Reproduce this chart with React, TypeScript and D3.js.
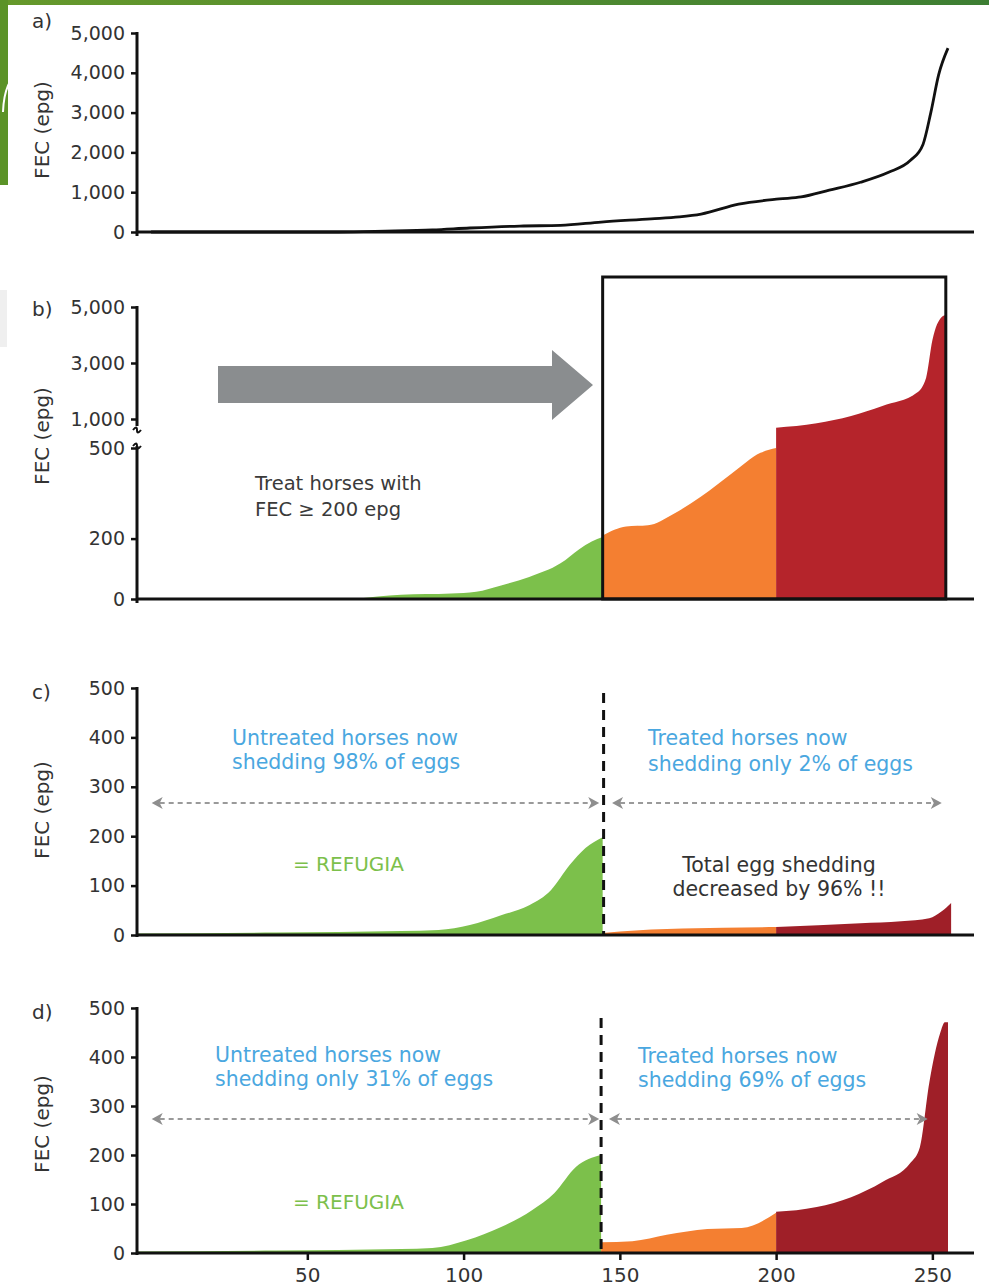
import React, { useRef, useEffect } from "react";
import * as d3 from "d3";

const W = 989;
const H = 1287;
const FONT = "DejaVu Sans";

// a) all horses, sorted by FEC
const aHorses = [0, 60, 75, 90, 102, 118, 131, 144, 160, 169, 176, 188, 201, 208, 217, 227, 236, 243, 247, 249.5, 252, 255];
const aFec = [0, 0, 20, 50, 100, 150, 165, 250, 330, 380, 450, 700, 830, 880, 1050, 1250, 1500, 1800, 2200, 3000, 3950, 4620];

// b) same horses, split by treatment group
const bGreenHorses = [65, 80, 96, 104, 112, 121, 131, 137, 141, 144.5];
const bGreenFec = [0, 14, 18, 24, 45, 73, 118, 165, 190, 205];
const bOrangeHorses = [144.5, 152, 159, 167, 176, 186, 195, 200];
const bOrangeFec = [210, 240, 244, 281, 339, 417, 484, 500];
const bRedHorses = [200, 213, 224, 234, 245, 248, 250, 253, 254.5];
const bRedFec = [850, 926, 1108, 1468, 1937, 2477, 3811, 4640, 4720];

// c) after treating everything >= 200 epg
const cGreenHorses = [-4.5, 40, 80, 92, 102, 112, 121, 128, 134, 139, 144.5];
const cGreenFec = [3, 5, 8, 10, 20, 40, 60, 91, 142, 176, 198];
const cOrangeHorses = [144.5, 150, 170, 200];
const cOrangeFec = [4, 7, 13, 16];
const cRedHorses = [200, 227, 240, 249, 253, 256];
const cRedFec = [16, 24, 28, 34, 48, 65];

// d) after treating with reduced efficacy
const dGreenHorses = [-4.5, 40, 80, 90, 101, 112, 122, 129, 136, 144];
const dGreenFec = [3, 5, 8, 10, 26, 53, 88, 122, 176, 200];
const dOrangeHorses = [144, 154, 165, 178, 189, 200];
const dOrangeFec = [22, 24, 37, 49, 51, 82];
const dRedHorses = [200, 213, 224, 234, 243, 246, 249, 252.5, 254, 255];
const dRedFec = [84, 94, 114, 145, 184, 216, 347, 449, 471, 471];

const aTicks = [0, 1000, 2000, 3000, 4000, 5000];
const bTicks = [0, 200, 500, 1000, 3000, 5000];
const cdTicks = [0, 100, 200, 300, 400, 500];
const xTicks = [50, 100, 150, 200, 250];

const GREEN = "#7cc04b";
const ORANGE = "#f47f31";
const RED_B = "#b5242b";
const RED_CD = "#9f1f28";
const BLUE = "#4aa7e0";
const INK = "#333";

const App = () => {
  const svgRef = useRef<SVGSVGElement>(null);

  useEffect(() => {
    if (!svgRef.current) return;
    const svg = d3.select(svgRef.current);
    svg.selectAll("*").remove();

    const x = d3.scaleLinear().domain([-4.5, 263]).range([137, 973]);
    const axisLeftX = 137;
    const axisRightX = 974;

    // web page leftovers: green header strip and side block
    const defs = svg.append("defs");
    const grad = defs.append("linearGradient").attr("id", "topbar");
    grad.append("stop").attr("offset", "0%").attr("stop-color", "#66992b");
    grad.append("stop").attr("offset", "100%").attr("stop-color", "#3d7e33");
    svg.append("rect").attr("x", 0).attr("y", 0).attr("width", W).attr("height", 5).attr("fill", "url(#topbar)");
    svg.append("rect").attr("x", 0).attr("y", 0).attr("width", 8).attr("height", 185).attr("fill", "#5b9327");
    svg.append("path").attr("d", "M 22 68 Q 4 80 3 112").attr("fill", "none").attr("stroke", "#fff").attr("stroke-width", 2);
    svg.append("rect").attr("x", 0).attr("y", 290).attr("width", 7).attr("height", 57).attr("fill", "#efefef");

    const yAxis = (y: d3.ScaleLinear<number, number>, ticks: number[]) => {
      const g = svg.append("g").attr("transform", `translate(${axisLeftX},0)`);
      g.call(
        d3
          .axisLeft(y)
          .tickValues(ticks)
          .tickSize(6)
          .tickPadding(6)
          .tickFormat(d3.format(",") as any)
      );
      g.select(".domain").remove();
      g.selectAll("line").attr("stroke", "#111").attr("stroke-width", 2.5);
      g.selectAll("text").attr("font-family", FONT).attr("font-size", 19).attr("fill", INK);
      return g;
    };

    const vline = (x1: number, y1: number, y2: number) =>
      svg.append("line").attr("x1", x1).attr("x2", x1).attr("y1", y1).attr("y2", y2)
        .attr("stroke", "#111").attr("stroke-width", 3);
    const hline = (y0: number) =>
      svg.append("line").attr("x1", axisLeftX - 1).attr("x2", axisRightX).attr("y1", y0).attr("y2", y0)
        .attr("stroke", "#111").attr("stroke-width", 3);

    const area = (horses: number[], fec: number[], y: d3.ScaleLinear<number, number>, color: string) => {
      const pts = horses.map((h, i) => [h, fec[i]] as [number, number]);
      const gen = d3.area<[number, number]>()
        .x((d) => x(d[0]))
        .y0(y(0))
        .y1((d) => y(d[1]))
        .curve(d3.curveMonotoneX);
      svg.append("path").attr("d", gen(pts)).attr("fill", color);
    };

    const text = (s: string, tx: number, ty: number, color: string, size = 20.5, anchor = "start") =>
      svg.append("text").attr("x", tx).attr("y", ty).attr("fill", color)
        .attr("font-family", FONT).attr("font-size", size).attr("text-anchor", anchor).text(s);

    const yLabel = (cy: number) =>
      svg.append("text").attr("transform", `translate(49,${cy}) rotate(-90)`)
        .attr("text-anchor", "middle").attr("font-family", FONT).attr("font-size", 20)
        .attr("fill", INK).text("FEC (epg)");

    // grey dashed double arrow
    const dashArrow = (h1: number, h2: number, y0: number) => {
      const x1 = x(h1);
      const x2 = x(h2);
      svg.append("line").attr("x1", x1 + 8).attr("x2", x2 - 8).attr("y1", y0).attr("y2", y0)
        .attr("stroke", "#9a9a9a").attr("stroke-width", 2).attr("stroke-dasharray", "5 4");
      svg.append("path").attr("d", `M${x1},${y0} l11,-6 l-3,6 l3,6 z`).attr("fill", "#8e8e8e");
      svg.append("path").attr("d", `M${x2},${y0} l-11,-6 l3,6 l-3,6 z`).attr("fill", "#8e8e8e");
    };

    const blackDash = (h: number, y1: number, y2: number) =>
      svg.append("line").attr("x1", x(h)).attr("x2", x(h)).attr("y1", y1).attr("y2", y2)
        .attr("stroke", "#111").attr("stroke-width", 3).attr("stroke-dasharray", "10 7");

    // ---------- a) ----------
    const yA = d3.scaleLinear().domain([0, 5000]).range([232, 33]);
    const line = d3.line<[number, number]>()
      .x((d) => x(d[0]))
      .y((d) => yA(d[1]))
      .curve(d3.curveMonotoneX);
    svg.append("path")
      .attr("d", line(aHorses.map((h, i) => [h, aFec[i]] as [number, number])))
      .attr("fill", "none").attr("stroke", "#111").attr("stroke-width", 2.8);
    hline(yA(0));
    vline(axisLeftX, yA(5000) - 1, yA(0) + 4);
    yAxis(yA, aTicks);
    yLabel(130);
    text("a)", 32, 28, INK, 20);

    // ---------- b) ----------
    const yB = d3.scaleLinear().domain([0, 500, 1000, 5000]).range([599, 448, 419, 307]);
    area(bGreenHorses, bGreenFec, yB, GREEN);
    area(bOrangeHorses, bOrangeFec, yB, ORANGE);
    area(bRedHorses, bRedFec, yB, RED_B);
    svg.append("rect").attr("x", x(144.5)).attr("y", 277)
      .attr("width", x(254.3) - x(144.5)).attr("height", yB(0) - 277)
      .attr("fill", "none").attr("stroke", "#111").attr("stroke-width", 3);
    hline(yB(0));
    vline(axisLeftX, yB(5000) - 1, 426);
    vline(axisLeftX, 446, yB(0) + 4);
    // axis break squiggles
    svg.append("path").attr("d", `M${axisLeftX - 4},430 q4,-5 4,0 t4,0`).attr("fill", "none").attr("stroke", "#111").attr("stroke-width", 2);
    svg.append("path").attr("d", `M${axisLeftX - 4},446 q4,-5 4,0 t4,0`).attr("fill", "none").attr("stroke", "#111").attr("stroke-width", 2);
    yAxis(yB, bTicks);
    yLabel(436);
    text("b)", 32, 316, INK, 20);
    // grey "treat" arrow
    svg.append("path")
      .attr("d", "M218,366 L552,366 L552,350 L593,385 L552,420 L552,403 L218,403 Z")
      .attr("fill", "#8a8d8f");
    text("Treat horses with", 255, 490, "#3a3a3a", 19.5);
    text("FEC \u2265 200 epg", 255, 516, "#3a3a3a", 19.5);

    // ---------- c) ----------
    const yC = d3.scaleLinear().domain([0, 500]).range([935, 688]);
    area(cGreenHorses, cGreenFec, yC, GREEN);
    area(cOrangeHorses, cOrangeFec, yC, ORANGE);
    area(cRedHorses, cRedFec, yC, RED_CD);
    hline(yC(0));
    vline(axisLeftX, yC(500) - 1, yC(0) + 2);
    yAxis(yC, cdTicks);
    yLabel(810);
    text("c)", 32, 699, INK, 20);
    blackDash(144.8, 693, yC(0));
    dashArrow(0.2, 143.4, 803);
    dashArrow(147.5, 253, 803);
    text("Untreated horses now", 232, 745, BLUE);
    text("shedding 98% of eggs", 232, 769, BLUE);
    text("Treated horses now", 648, 745, BLUE);
    text("shedding only 2% of eggs", 648, 771, BLUE);
    text("= REFUGIA", 293, 871, GREEN, 20);
    text("Total egg shedding", 779, 872, INK, 20.5, "middle");
    text("decreased by 96% !!", 779, 896, INK, 20.5, "middle");

    // ---------- d) ----------
    const yD = d3.scaleLinear().domain([0, 500]).range([1253, 1008]);
    area(dGreenHorses, dGreenFec, yD, GREEN);
    area(dOrangeHorses, dOrangeFec, yD, ORANGE);
    area(dRedHorses, dRedFec, yD, RED_CD);
    hline(yD(0));
    vline(axisLeftX, yD(500) - 1, yD(0) + 2);
    yAxis(yD, cdTicks);
    yLabel(1124);
    text("d)", 32, 1019, INK, 20);
    blackDash(144, 1018, yD(0));
    dashArrow(0.2, 143.4, 1119);
    dashArrow(146.5, 248.5, 1119);
    text("Untreated horses now", 215, 1062, BLUE);
    text("shedding only 31% of eggs", 215, 1086, BLUE);
    text("Treated horses now", 638, 1063, BLUE);
    text("shedding 69% of eggs", 638, 1087, BLUE);
    text("= REFUGIA", 293, 1209, GREEN, 20);

    const gx = svg.append("g").attr("transform", `translate(0,${yD(0)})`);
    gx.call(d3.axisBottom(x).tickValues(xTicks).tickSize(7).tickPadding(8).tickFormat(d3.format("d") as any));
    gx.select(".domain").remove();
    gx.selectAll("line").attr("stroke", "#111").attr("stroke-width", 2.5);
    gx.selectAll("text").attr("font-family", FONT).attr("font-size", 20).attr("fill", INK);
  }, []);

  return (
    <svg
      ref={svgRef}
      width={W}
      height={H}
      style={{ position: "absolute", left: 0, top: 0, display: "block", background: "#fff" }}
    />
  );
};

export default App;
